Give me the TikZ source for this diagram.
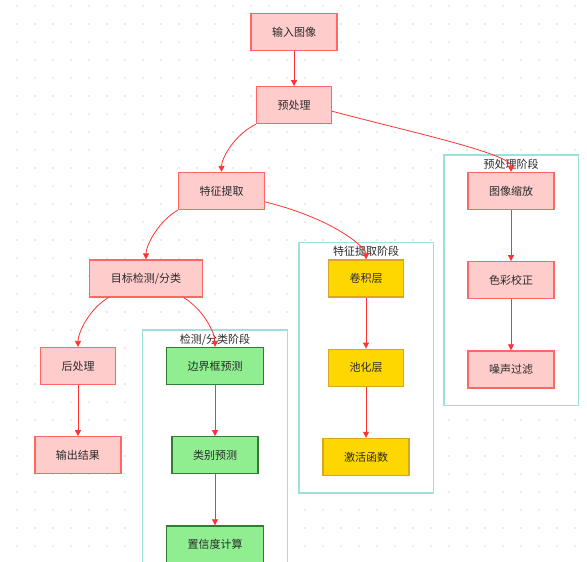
\documentclass[tikz,border=0pt]{standalone}
\usepackage{fontspec}
\setmainfont{Noto Sans CJK SC}
\usetikzlibrary{positioning}
\usetikzlibrary{fit,backgrounds,arrows.meta}

\definecolor{pinkfill}{HTML}{FFCCCC}
\definecolor{pinkline}{HTML}{FF6666}
\definecolor{greenfill}{HTML}{90EE90}
\definecolor{greenline}{HTML}{2E7D32}
\definecolor{goldfill}{HTML}{FFD700}
\definecolor{goldline}{HTML}{DAA520}
\definecolor{stageline}{HTML}{9EE0DA}
\definecolor{edgered}{HTML}{FF3333}
\definecolor{textgray}{HTML}{2A2A2A}
\definecolor{dotgray}{HTML}{EBEBEB}

\begin{document}
\begin{tikzpicture}[
x=1pt, y=1pt, >={Triangle[length=6pt,width=6pt]},
stepnode/.style={rectangle, line width=1.2pt, minimum height=37pt, inner xsep=21pt, text=textgray, font=\fontsize{11}{13}\selectfont},
pinknode/.style={stepnode, draw=pinkline, fill=pinkfill},
greennode/.style={stepnode, draw=greenline, fill=greenfill},
goldnode/.style={stepnode, draw=goldline, fill=goldfill},
stagebox/.style={rectangle, draw=stageline, fill=white, line width=1.2pt, inner xsep=23.5pt, inner ysep=17pt},
stagelabel/.style={inner sep=2pt, text=textgray, font=\fontsize{11}{13}\selectfont},
flow/.style={->, draw=edgered, line width=0.8pt},
node distance=51pt,
]
\useasboundingbox (0,0) rectangle (587,-562);

%Nodes
\node[pinknode] (input) at (294,-32)        {输入图像};
\node[pinknode] (prep)  [below=35pt of input] {预处理};
\node[pinknode] (feat)  at (221.5,-191)     {特征提取};
\node[pinknode] (detect) at (146,-278.5)    {目标检测/分类};
\node[pinknode] (post)  at (78,-366)        {后处理};
\node[pinknode] (output) [below=of post]    {输出结果};

\node[pinknode] (resize)   at (511,-191)        {图像缩放};
\node[pinknode] (colorfix) [below=of resize]    {色彩校正};
\node[pinknode] (denoise)  [below=of colorfix]  {噪声过滤};

\node[goldnode] (conv) at (366,-278.5)   {卷积层};
\node[goldnode] (pool) [below=of conv]   {池化层};
\node[goldnode] (act)  [below=of pool]   {激活函数};

\node[greennode] (bbox) at (215,-366)    {边界框预测};
\node[greennode] (cls)  [below=of bbox]  {类别预测};
\node[greennode] (conf) [below=of cls]   {置信度计算};

%Stages
\begin{scope}[on background layer]
\foreach \i in {0,...,32}
  \foreach \j in {0,...,31}
    \fill[dotgray] ({15.7+18*\i},{-4.7-18*\j}) rectangle ++(2,-2);
\node[stagebox, fit=(resize)(denoise)] (prestage)  {};
\node[stagebox, fit=(conv)(act)]       (featstage) {};
\node[stagebox, fit=(bbox)(conf)]      (detstage)  {};
\end{scope}
\node[stagelabel, below=2.5pt of prestage.north]  {预处理阶段};
\node[stagelabel, below=2.5pt of featstage.north] {特征提取阶段};
\node[stagelabel, below=2.5pt of detstage.north]  {检测/分类阶段};

%Lines
\draw[flow] (input) -- (prep);
\draw[flow] (prep.south west) to[out=-155, in=90, in looseness=0.6] (feat.north);
\draw[flow] (prep.-9) to[out=-15, in=90, in looseness=0.25] (resize.north);
\draw[flow] (feat.-14) to[out=-14, in=90, out looseness=1.6, in looseness=0.25] (conv.north);
\draw[flow] (feat.south west) to[out=-150, in=90, in looseness=0.6] (detect.north);
\draw[flow] (detect.-153) to[out=-150, in=90, in looseness=0.6] (post.north);
\draw[flow] (detect.-27) to[out=-30, in=90, in looseness=0.6] (bbox.north);
\draw[flow] (post) -- (output);
\draw[flow] (resize) -- (colorfix);
\draw[flow] (colorfix) -- (denoise);
\draw[flow] (conv) -- (pool);
\draw[flow] (pool) -- (act);
\draw[flow] (bbox) -- (cls);
\draw[flow] (cls) -- (conf);
\end{tikzpicture}
\end{document}
